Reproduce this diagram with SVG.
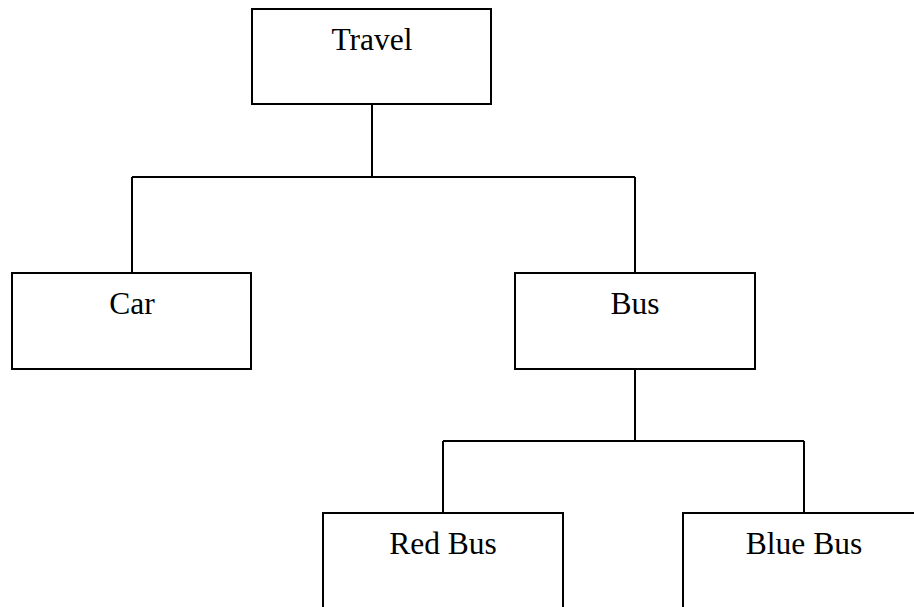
<svg xmlns="http://www.w3.org/2000/svg" width="914" height="607" viewBox="0 0 914 607">
  <style>
    .box { fill: #ffffff; stroke: #000000; stroke-width: 2; }
    .link { fill: none; stroke: #000000; stroke-width: 2; }
    .label { font-family: "Liberation Serif", "Times New Roman", serif; font-size: 31.5px; fill: #000000; text-anchor: middle; }
  </style>
  <rect width="914" height="607" fill="#ffffff"/>

  <!-- tree connectors -->
  <g id="connectors">
    <path class="link" d="M372 104 V177 M132 177 H635 M132 177 V273 M635 177 V273"/>
    <path class="link" d="M635 369 V441 M443 441 H804 M443 441 V513 M804 441 V513"/>
  </g>

  <g id="travel">
    <rect class="box" x="252" y="9" width="239" height="95"/>
    <text class="label" x="372" y="50">Travel</text>
  </g>

  <g id="car">
    <rect class="box" x="12" y="273" width="239" height="96"/>
    <text class="label" x="132" y="314">Car</text>
  </g>

  <g id="bus">
    <rect class="box" x="515" y="273" width="240" height="96"/>
    <text class="label" x="635" y="314">Bus</text>
  </g>

  <g id="red-bus">
    <rect class="box" x="323" y="513" width="240" height="96"/>
    <text class="label" x="443" y="554">Red Bus</text>
  </g>

  <g id="blue-bus">
    <rect class="box" x="683" y="513" width="242" height="96"/>
    <text class="label" x="804" y="554">Blue Bus</text>
  </g>
</svg>
